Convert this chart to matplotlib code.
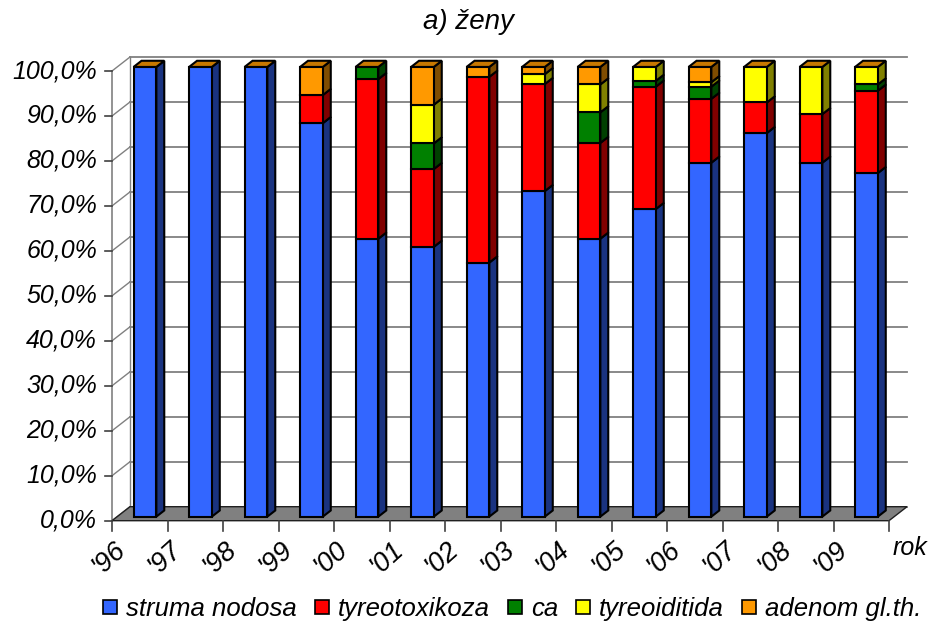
import matplotlib
matplotlib.use("Agg")
import matplotlib.pyplot as plt
from matplotlib.patches import Polygon
from matplotlib.lines import Line2D

plt.rcParams['font.family'] = ['Liberation Sans', 'DejaVu Sans']
plt.rcParams['font.style'] = 'italic'

# ---------------- data ----------------
years = ["'96", "'97", "'98", "'99", "'00", "'01", "'02", "'03", "'04", "'05", "'06", "'07", "'08", "'09"]
series_names = ["struma nodosa", "tyreotoxikoza", "ca", "tyreoiditida", "adenom gl.th."]
struma = [100, 100, 100, 87.5, 61.8, 60.0, 56.5, 72.4, 61.8, 68.4, 78.7, 85.3, 78.7, 76.4]
tyreotox = [0, 0, 0, 6.25, 35.5, 17.3, 41.3, 23.8, 21.3, 27.2, 14.2, 6.8, 10.8, 18.3]
ca = [0, 0, 0, 0, 2.7, 5.7, 0, 0, 6.8, 1.3, 2.7, 0, 0, 1.4]
tyreoid = [0, 0, 0, 0, 0, 8.6, 0, 2.2, 6.2, 3.1, 1.0, 7.9, 10.5, 3.9]
adenom = [0, 0, 0, 6.25, 0, 8.4, 2.2, 1.6, 3.9, 0, 3.4, 0, 0, 0]
yticks = list(range(0, 101, 10))

# ---------------- style ----------------
front_cols = ["#3366FF", "#FF0000", "#008000", "#FFFF00", "#FF9900"]
side_cols = ["#1A3380", "#800000", "#004000", "#808000", "#804D00"]
top_col = "#C87800"
grid_col = "#808080"
FS = 18

W, H, DPI = 936, 623, 100
fig = plt.figure(figsize=(W / DPI, H / DPI), dpi=DPI)
ax = fig.add_axes([0, 0, 1, 1])
ax.axis('off')

# pixel layout of the plot (front plane)
PX_PER_CAT = 55.5
X0_PX = 139.75
PX_PER_PCT = 4.497
Y0_PX = 520.7
ax.set_xlim(-X0_PX / PX_PER_CAT, (W - X0_PX) / PX_PER_CAT)
ax.set_ylim((Y0_PX - H) / PX_PER_PCT, Y0_PX / PX_PER_PCT)

OX = 18 / PX_PER_CAT      # depth offset (data units) for full depth
OY = 14 / PX_PER_PCT
n = len(years)
xl, xr = -0.5, n - 0.5
BW = 0.41
D1, D2 = 0.29, 0.73

# back wall gridlines
for v in yticks:
    ax.plot([xl + OX, xr + OX], [v + OY, v + OY], color=grid_col, lw=1.3, zorder=1)
    # left wall diagonals
    ax.plot([xl, xl + OX], [v, v + OY], color=grid_col, lw=1.0, zorder=1)
# left wall back edge
ax.plot([xl + OX, xl + OX], [OY, 100 + OY], color=grid_col, lw=1.0, zorder=1)
# front y axis
ax.plot([xl, xl], [0, 100], color=grid_col, lw=1.2, zorder=2)
for v in yticks:
    ax.plot([xl - 7 / PX_PER_CAT, xl], [v, v], color="#404040", lw=1.2, zorder=2)
    ax.text(xl - 15 / PX_PER_CAT, v, f"{v:.1f}%".replace('.', ','), ha='right', va='center',
            fontsize=FS, color='black')

# floor
floor = Polygon([(xl, 0), (xr, 0), (xr + OX, OY), (xl + OX, OY)], closed=True,
                facecolor="#808080", edgecolor="#202020", lw=1.0, zorder=2)
ax.add_patch(floor)
# x-axis ticks
for k in range(n + 1):
    ax.plot([xl + k, xl + k], [0, -10 / PX_PER_PCT], color="#404040", lw=1.2, zorder=2)

# bars
data = [struma, tyreotox, ca, tyreoid, adenom]
for i in range(n):
    base = 0.0
    fx0 = i - BW / 2 + D1 * OX
    fx1 = i + BW / 2 + D1 * OX
    bx1 = i + BW / 2 + D2 * OX
    bx0 = i - BW / 2 + D2 * OX
    for s, vals in enumerate(data):
        v = vals[i]
        if v <= 0:
            continue
        y0, y1 = base, base + v
        front = Polygon([(fx0, y0 + D1 * OY), (fx1, y0 + D1 * OY), (fx1, y1 + D1 * OY), (fx0, y1 + D1 * OY)],
                        closed=True, facecolor=front_cols[s], edgecolor='black', lw=1.5, zorder=5)
        side = Polygon([(fx1, y0 + D1 * OY), (bx1, y0 + D2 * OY), (bx1, y1 + D2 * OY), (fx1, y1 + D1 * OY)],
                       closed=True, facecolor=side_cols[s], edgecolor='black', lw=1.5, zorder=5)
        ax.add_patch(side)
        ax.add_patch(front)
        base = y1
    top = Polygon([(fx0, base + D1 * OY), (fx1, base + D1 * OY), (bx1, base + D2 * OY), (bx0, base + D2 * OY)],
                  closed=True, facecolor=top_col, edgecolor='black', lw=1.5, zorder=5)
    ax.add_patch(top)
    # category label
    ax.text(i - 0.55, -8.3, years[i], rotation=42, rotation_mode='anchor', ha='center', va='center',
            fontsize=19.5, color='black')

ax.text(xr + 0.38, -6.1, "rok", ha='center', va='center', fontsize=FS, color='black')

fig.text(468 / W, 1 - 22 / H, "a) ženy", ha='center', va='center', fontsize=20, color='black')

handles = [Line2D([], [], marker='s', linestyle='none', markersize=10, markerfacecolor=c,
                  markeredgecolor='black', markeredgewidth=1.2) for c in front_cols]
fig.legend(handles, series_names, loc='center', bbox_to_anchor=(512 / W, 1 - 609 / H), ncol=5,
           frameon=False, fontsize=18.5, handlelength=0.55, handletextpad=0.35, columnspacing=0.7,
           borderpad=0, borderaxespad=0)

fig.savefig("out.png", dpi=DPI)
